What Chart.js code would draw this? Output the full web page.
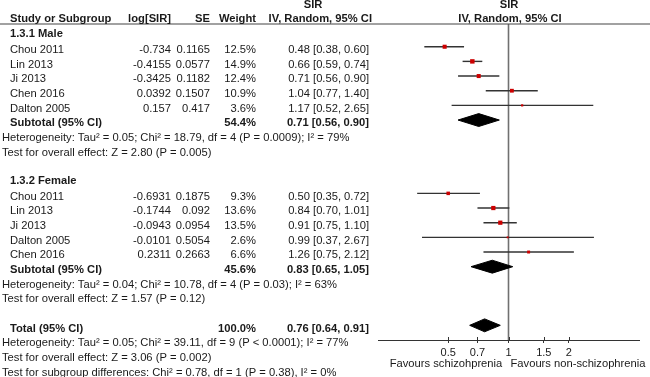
<!DOCTYPE html>
<html>
<head>
<meta charset="utf-8">
<script src="https://cdn.jsdelivr.net/npm/chart.js@4.4.1/dist/chart.umd.min.js"></script>
<style>
  html, body { margin: 0; padding: 0; background: #fff; }
  #wrap { width: 650px; height: 377px; position: relative; }
</style>
</head>
<body>
<div id="wrap"><canvas id="forest" width="650" height="377"></canvas></div>
<script>
// --- data ---
const maleStudies = ["Chou 2011", "Lin 2013", "Ji 2013", "Chen 2016", "Dalton 2005"];
const maleLogSir = [-0.734, -0.4155, -0.3425, 0.0392, 0.157];
const maleSe = [0.1165, 0.0577, 0.1182, 0.1507, 0.417];
const maleWeight = [12.5, 14.9, 12.4, 10.9, 3.6];
const maleSir = [0.48, 0.66, 0.71, 1.04, 1.17];
const maleLow = [0.38, 0.59, 0.56, 0.77, 0.52];
const maleHigh = [0.60, 0.74, 0.90, 1.40, 2.65];

const femaleStudies = ["Chou 2011", "Lin 2013", "Ji 2013", "Dalton 2005", "Chen 2016"];
const femaleLogSir = [-0.6931, -0.1744, -0.0943, -0.0101, 0.2311];
const femaleSe = [0.1875, 0.092, 0.0954, 0.5054, 0.2663];
const femaleWeight = [9.3, 13.6, 13.5, 2.6, 6.6];
const femaleSir = [0.50, 0.84, 0.91, 0.99, 1.26];
const femaleLow = [0.35, 0.70, 0.75, 0.37, 0.75];
const femaleHigh = [0.72, 1.01, 1.10, 2.67, 2.12];

// pooled estimates: [weight, sir, low, high]
const maleSubtotal = [54.4, 0.71, 0.56, 0.90];
const femaleSubtotal = [45.6, 0.83, 0.65, 1.05];
const overallTotal = [100.0, 0.76, 0.64, 0.91];

const xTicks = [0.5, 0.7, 1, 1.5, 2];

// row index of each line of the table
const maleRows = [1, 2, 3, 4, 5];
const femaleRows = [11, 12, 13, 14, 15];

const FONT = '"Liberation Sans", Arial, sans-serif';
const FS = 11.2;

// confidence interval lines, one dataset per study
let ciSets = [];
function addCi(low, high, rows) {
  low.forEach((lo, i) => {
    ciSets.push({
      type: "line",
      data: [{ x: lo, y: rows[i] }, { x: high[i], y: rows[i] }],
      borderColor: "#333",
      borderWidth: 1.4,
      pointRadius: 0,
      order: 2
    });
  });
}
addCi(maleLow, maleHigh, maleRows);
addCi(femaleLow, femaleHigh, femaleRows);

// weighted squares
let squarePts = [], squareRad = [];
maleSir.forEach((v, i) => { squarePts.push({ x: v, y: maleRows[i] }); squareRad.push(1.15 * Math.sqrt(maleWeight[i]) / 1.414); });
femaleSir.forEach((v, i) => { squarePts.push({ x: v, y: femaleRows[i] }); squareRad.push(1.15 * Math.sqrt(femaleWeight[i]) / 1.414); });

// diamonds for pooled estimates
function diamond(p, row) {
  const h = 0.44;
  return {
    type: "line",
    data: [
      { x: p[2], y: row }, { x: p[1], y: row - h },
      { x: p[3], y: row }, { x: p[1], y: row + h },
      { x: p[2], y: row }
    ],
    borderColor: "#000",
    backgroundColor: "#000",
    borderWidth: 1,
    pointRadius: 0,
    tension: 0,
    fill: "shape",
    order: 1
  };
}

const forestText = {
  id: "forestText",
  afterDraw(chart) {
    const ctx = chart.ctx;
    const ys = chart.scales.y, xs = chart.scales.x;
    const area = chart.chartArea;
    const rowY = k => ys.getPixelForValue(k) + 3.3;

    function txt(s, x, y, align, bold) {
      ctx.font = (bold ? "bold " : "") + FS + "px " + FONT;
      ctx.fillStyle = "#1a1a1a";
      ctx.textAlign = align;
      ctx.textBaseline = "middle";
      ctx.fillText(s, x, y);
    }

    ctx.save();
    // header rule
    ctx.strokeStyle = "#444";
    ctx.lineWidth = 1.2;
    ctx.beginPath();
    ctx.moveTo(0, area.top);
    ctx.lineTo(650, area.top);
    ctx.stroke();

    // ticks crossing above axis
    ctx.strokeStyle = "#333";
    ctx.lineWidth = 1;
    xTicks.forEach(v => {
      const px = Math.round(xs.getPixelForValue(v)) + 0.5;
      ctx.beginPath();
      ctx.moveTo(px, area.bottom);
      ctx.lineTo(px, area.bottom - 3);
      ctx.stroke();
    });

    // column headers
    const hy = area.top - 5;
    txt("SIR", 313, area.top - 19, "center", true);
    txt("SIR", 509, area.top - 19, "center", true);
    txt("Study or Subgroup", 10, hy, "left", true);
    txt("log[SIR]", 171, hy, "right", true);
    txt("SE", 210, hy, "right", true);
    txt("Weight", 256, hy, "right", true);
    txt("IV, Random, 95% CI", 372, hy, "right", true);
    txt("IV, Random, 95% CI", 510, hy, "center", true);

    function ci(s, l, h) { return s.toFixed(2) + " [" + l.toFixed(2) + ", " + h.toFixed(2) + "]"; }

    function group(title, titleRow, names, logs, ses, ws, sirs, lows, highs, rows) {
      txt(title, 10, rowY(titleRow) - 1, "left", true);
      names.forEach((n, i) => {
        const y = rowY(rows[i]);
        txt(n, 10, y, "left", false);
        txt(String(logs[i]), 171, y, "right", false);
        txt(String(ses[i]), 210, y, "right", false);
        txt(ws[i].toFixed(1) + "%", 256, y, "right", false);
        txt(ci(sirs[i], lows[i], highs[i]), 369, y, "right", false);
      });
    }
    function pooled(label, p, row) {
      const y = rowY(row);
      txt(label, 10, y, "left", true);
      txt(p[0].toFixed(1) + "%", 256, y, "right", true);
      txt(ci(p[1], p[2], p[3]), 369, y, "right", true);
    }

    group("1.3.1 Male", 0, maleStudies, maleLogSir, maleSe, maleWeight, maleSir, maleLow, maleHigh, maleRows);
    pooled("Subtotal (95% CI)", maleSubtotal, 6);
    txt("Heterogeneity: Tau\u00b2 = 0.05; Chi\u00b2 = 18.79, df = 4 (P = 0.0009); I\u00b2 = 79%", 2, rowY(7), "left", false);
    txt("Test for overall effect: Z = 2.80 (P = 0.005)", 2, rowY(8), "left", false);

    group("1.3.2 Female", 10, femaleStudies, femaleLogSir, femaleSe, femaleWeight, femaleSir, femaleLow, femaleHigh, femaleRows);
    pooled("Subtotal (95% CI)", femaleSubtotal, 16);
    txt("Heterogeneity: Tau\u00b2 = 0.04; Chi\u00b2 = 10.78, df = 4 (P = 0.03); I\u00b2 = 63%", 2, rowY(17), "left", false);
    txt("Test for overall effect: Z = 1.57 (P = 0.12)", 2, rowY(18), "left", false);

    pooled("Total (95% CI)", overallTotal, 20);
    txt("Heterogeneity: Tau\u00b2 = 0.05; Chi\u00b2 = 39.11, df = 9 (P < 0.0001); I\u00b2 = 77%", 2, rowY(21), "left", false);
    txt("Test for overall effect: Z = 3.06 (P = 0.002)", 2, rowY(22), "left", false);
    txt("Test for subgroup differences: Chi\u00b2 = 0.78, df = 1 (P = 0.38), I\u00b2 = 0%", 2, rowY(23), "left", false);

    // favours labels
    txt("Favours schizohprenia", 446, 364, "center", false);
    txt("Favours non-schizophrenia", 578, 364, "center", false);
    ctx.restore();
  }
};

Chart.defaults.font.family = FONT;
Chart.defaults.font.size = 11;
Chart.defaults.color = "#1a1a1a";

new Chart(document.getElementById("forest"), {
  type: "line",
  data: {
    datasets: [
      {
        // line of no effect
        type: "line",
        data: [{ x: 1, y: -0.55 }, { x: 1, y: 21 }],
        borderColor: "#707070",
        borderWidth: 1.6,
        pointRadius: 0,
        order: 3
      },
      ...ciSets,
      diamond(maleSubtotal, 6),
      diamond(femaleSubtotal, 16),
      diamond(overallTotal, 20),
      {
        type: "line",
        showLine: false,
        data: squarePts,
        pointStyle: "rect",
        pointRadius: squareRad,
        pointBackgroundColor: "#cc0000",
        pointBorderWidth: 0,
        order: 0
      }
    ]
  },
  options: {
    responsive: false,
    animation: false,
    events: [],
    layout: { padding: { left: 378, right: 11, top: 24, bottom: 0 } },
    plugins: { legend: { display: false }, tooltip: { enabled: false } },
    scales: {
      x: {
        type: "logarithmic",
        min: Math.exp(-1.5),
        max: Math.exp(1.5),
        afterBuildTicks: scale => { scale.ticks = xTicks.map(v => ({ value: v })); },
        afterFit: scale => { scale.height = 37; },
        border: { display: true, color: "#333", width: 1 },
        grid: { display: true, drawOnChartArea: false, drawTicks: true, tickLength: 3, color: "#333" },
        ticks: {
          autoSkip: false,
          maxRotation: 0,
          padding: 3,
          color: "#1a1a1a",
          font: { size: 11 },
          callback: v => String(v)
        }
      },
      y: {
        type: "linear",
        reverse: true,
        min: -0.55,
        max: 21,
        display: false
      }
    }
  },
  plugins: [forestText]
});
</script>
</body>
</html>
